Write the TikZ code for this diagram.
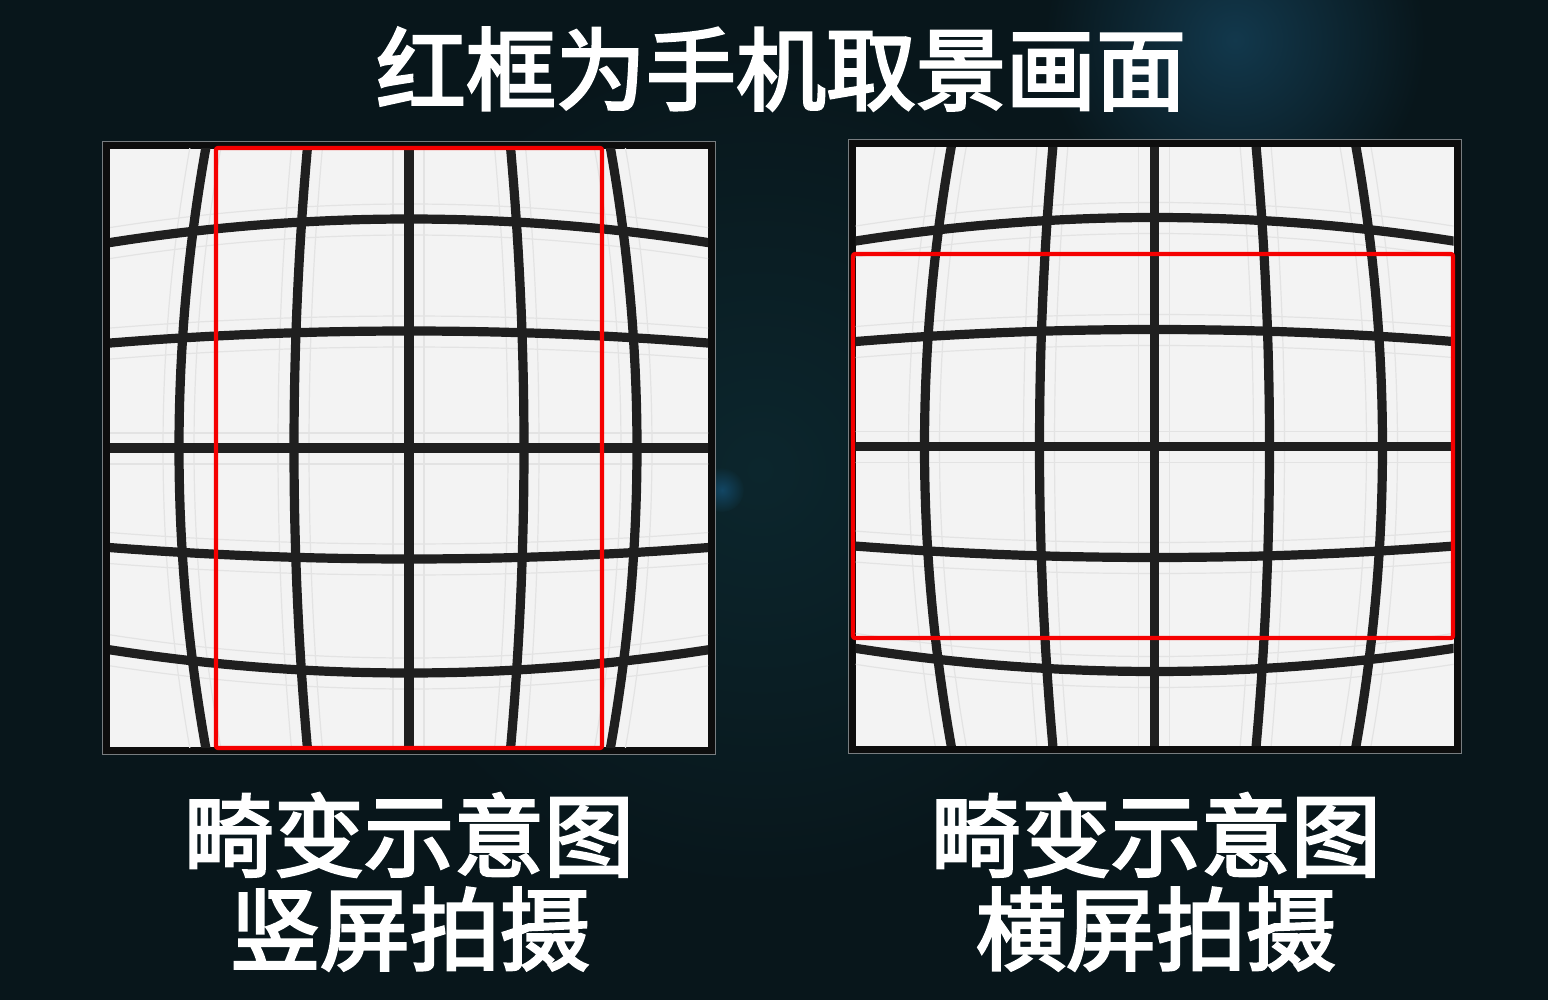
\documentclass[tikz,border=0pt]{standalone}
\usepackage{fontspec}
\newfontfamily\cjk{Noto Sans CJK SC}[FakeBold=3]
\begin{document}
\begin{tikzpicture}[x=0.5pt,y=-0.5pt,
  gridline/.style={line width=4.6pt, color=black!88, line cap=round},
  ghost/.style={line width=0.6pt, color=black!11},
  redbox/.style={line width=2.1pt, color={rgb,255:red,245;green,0;blue,0}, rounded corners=1pt},
  label/.style={text=white, inner sep=0pt, font=\cjk\fontsize{45}{47}\selectfont}]
\definecolor{bg}{RGB}{8,22,27}
\definecolor{paper}{RGB}{243,243,243}
\definecolor{framegray}{RGB}{120,125,128}
\useasboundingbox (0,0) rectangle (1548,1000);
% background
\fill[bg] (0,0) rectangle (1548,1000);
\begin{scope}
\clip (0,0) rectangle (1548,1000);
\shade[inner color={rgb,255:red,12;green,38;blue,45}, outer color=bg] (760,470) circle (420);
\shade[inner color={rgb,255:red,18;green,56;blue,76}, outer color=bg] (1235,40) circle (190);
\shade[inner color={rgb,255:red,18;green,70;blue,100}, outer color={rgb,255:red,12;green,38;blue,45}] (722,490) circle (22);
\end{scope}
\newcommand{\mypanel}[2]{%
  \fill[framegray] (#1-307,#2-307) rectangle (#1+307,#2+307);
  \fill[black!95] (#1-306,#2-306) rectangle (#1+306,#2+306);
  \fill[paper] (#1-299,#2-299) rectangle (#1+299,#2+299);
  \begin{scope}
  \clip (#1-299,#2-299) rectangle (#1+299,#2+299);
  \foreach \off in {-229,-117,0,111,225}{
    \draw[ghost] plot[domain=-305:305,samples=31,variable=\t] ({#1+\t},{#2+\off*(1-0.105*(\t/302)^2)-15});
    \draw[ghost] plot[domain=-305:305,samples=31,variable=\t] ({#1+\t},{#2+\off*(1-0.105*(\t/302)^2)+16});
  }
  \foreach \off in {-230,-115,0,115,228}{
    \draw[ghost] plot[domain=-305:305,samples=31,variable=\t] ({#1+\off*(1-0.115*(\t/298)^2)-16},{#2+\t});
    \draw[ghost] plot[domain=-305:305,samples=31,variable=\t] ({#1+\off*(1-0.115*(\t/298)^2)+15},{#2+\t});
  }
  \foreach \off in {-229,-117,0,111,225}
    \draw[gridline] plot[domain=-310:310,samples=41,variable=\t] ({#1+\t},{#2+\off*(1-0.105*(\t/302)^2)});
  \foreach \off in {-230,-115,0,115,228}
    \draw[gridline] plot[domain=-310:310,samples=41,variable=\t] ({#1+\off*(1-0.115*(\t/298)^2)},{#2+\t});
  \end{scope}
  \draw[black!95, line width=3pt] (#1-303,#2-303) rectangle (#1+303,#2+303);
}
\mypanel{409}{448}
\mypanel{1154.5}{446.5}
% red viewfinder frames
\draw[redbox] (216,148) rectangle (602,748);
\draw[redbox] (853,254) rectangle (1453,638);
% texts
\node[label] (title) at (781,69) {红框为手机取景画面};
\node[label] (capLa) at (409,835) {畸变示意图};
\node[label] (capLb) at (410,929) {竖屏拍摄};
\node[label] (capRa) at (1156,835) {畸变示意图};
\node[label] (capRb) at (1156,929) {横屏拍摄};
\end{tikzpicture}
\end{document}
